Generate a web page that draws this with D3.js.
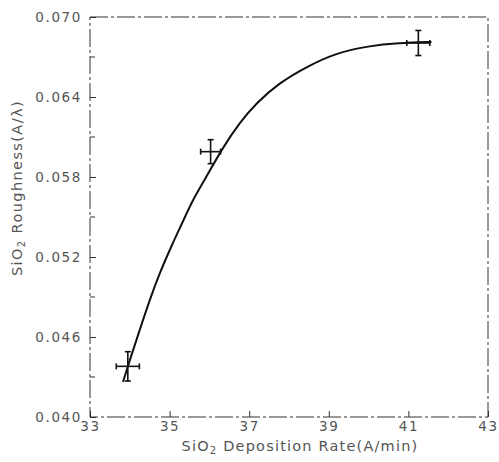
<!DOCTYPE html>
<html>
<head>
<meta charset="utf-8">
<script src="https://cdn.jsdelivr.net/npm/d3@7"></script>
<style>
  body { margin: 0; background: #fff; }
  text { font-family: "DejaVu Sans", sans-serif; fill: #555; }
</style>
</head>
<body>
<div id="chart"></div>
<script>
// measured points with error bars
const rates = [33.95, 36.03, 41.25];
const roughness = [0.0438, 0.0599, 0.06805];
const rateErr = [0.29, 0.25, 0.29];
const roughErr = [0.0011, 0.0009, 0.00094];

// fitted curve
const fitRate = [33.83, 34.0, 34.25, 34.5, 34.75, 35.08, 35.33, 35.58, 35.88, 36.33, 36.75, 37.18, 37.75, 38.43, 39.18, 40.0, 40.75, 41.58];
const fitRough = [0.04263, 0.04428, 0.04653, 0.04878, 0.0508, 0.05305, 0.05463, 0.05628, 0.05778, 0.06018, 0.06205, 0.06355, 0.06505, 0.06625, 0.0673, 0.06783, 0.06805, 0.06813];

const xTicks = [33, 35, 37, 39, 41, 43];
const yTicks = [0.040, 0.046, 0.052, 0.058, 0.064, 0.070];
const yMinor = [0.043, 0.049, 0.055, 0.061, 0.067];

const width = 499, height = 462;
const margin = { top: 17, right: 11, bottom: 45, left: 90 };

const svg = d3.select('#chart').append('svg')
    .attr('width', width)
    .attr('height', height);

const x = d3.scaleLinear().domain([33, 43]).range([margin.left, width - margin.right]);
const y = d3.scaleLinear().domain([0.040, 0.070]).range([height - margin.bottom, margin.top]);

// dashed frame
svg.append('rect')
    .attr('x', x(33)).attr('y', y(0.070))
    .attr('width', x(43) - x(33)).attr('height', y(0.040) - y(0.070))
    .attr('fill', 'none')
    .attr('stroke', '#333')
    .attr('stroke-width', 1)
    .attr('stroke-dasharray', '18,3,3,3');

// left axis, ticks pointing inward
const yAxis = svg.append('g')
    .attr('transform', `translate(${x(33)},0)`)
    .call(d3.axisLeft(y).tickValues(yTicks).tickFormat(d3.format('.3f')).tickSizeInner(-6).tickSizeOuter(0).tickPadding(8));
yAxis.select('.domain').remove();
yAxis.selectAll('line').attr('stroke', '#333');
yAxis.selectAll('text').style('font-size', '13.5px').style('letter-spacing', '1.6px').attr('fill', '#555');

svg.append('g').selectAll('line')
    .data(yMinor).enter().append('line')
    .attr('x1', x(33)).attr('x2', x(33) + 5)
    .attr('y1', d => y(d)).attr('y2', d => y(d))
    .attr('stroke', '#333');

// bottom axis
const xAxis = svg.append('g')
    .attr('transform', `translate(0,${y(0.040)})`)
    .call(d3.axisBottom(x).tickValues(xTicks).tickSizeInner(-6).tickSizeOuter(0).tickPadding(4));
xAxis.select('.domain').remove();
xAxis.selectAll('line').attr('stroke', '#333');
xAxis.selectAll('text').style('font-size', '13.5px').style('letter-spacing', '1.6px').attr('fill', '#555');

// axis titles
const xt = svg.append('text')
    .attr('x', 300).attr('y', 451)
    .attr('text-anchor', 'middle')
    .style('font-size', '14.5px')
    .style('letter-spacing', '1.2px');
xt.append('tspan').text('SiO');
xt.append('tspan').text('2').attr('baseline-shift', '-25%').style('font-size', '10px');
xt.append('tspan').text(' Deposition Rate(A/min)');

const yt = svg.append('text')
    .attr('transform', 'translate(22,188) rotate(-90)')
    .attr('text-anchor', 'middle')
    .style('font-size', '14.5px')
    .style('letter-spacing', '1.4px');
yt.append('tspan').text('SiO');
yt.append('tspan').text('2').attr('baseline-shift', '-25%').style('font-size', '10px');
yt.append('tspan').text(' Roughness(A/λ)');

// fitted curve
const line = d3.line()
    .x(d => x(d[0]))
    .y(d => y(d[1]))
    .curve(d3.curveBasis);
svg.append('path')
    .datum(d3.zip(fitRate, fitRough))
    .attr('d', line)
    .attr('fill', 'none')
    .attr('stroke', '#111')
    .attr('stroke-width', 2);

// error bars
const pts = d3.range(rates.length).map(i => ({
    x: rates[i], y: roughness[i], dx: rateErr[i], dy: roughErr[i]
}));
const g = svg.append('g').attr('stroke', '#111').attr('stroke-width', 1.6);
pts.forEach(p => {
    g.append('line')
        .attr('x1', x(p.x - p.dx)).attr('x2', x(p.x + p.dx))
        .attr('y1', y(p.y)).attr('y2', y(p.y));
    g.append('line')
        .attr('x1', x(p.x)).attr('x2', x(p.x))
        .attr('y1', y(p.y - p.dy)).attr('y2', y(p.y + p.dy));
    // caps
    [p.x - p.dx, p.x + p.dx].forEach(cx => {
        g.append('line')
            .attr('x1', x(cx)).attr('x2', x(cx))
            .attr('y1', y(p.y) - 3).attr('y2', y(p.y) + 3);
    });
    [p.y - p.dy, p.y + p.dy].forEach(cy => {
        g.append('line')
            .attr('x1', x(p.x) - 3).attr('x2', x(p.x) + 3)
            .attr('y1', y(cy)).attr('y2', y(cy));
    });
});
</script>
</body>
</html>
